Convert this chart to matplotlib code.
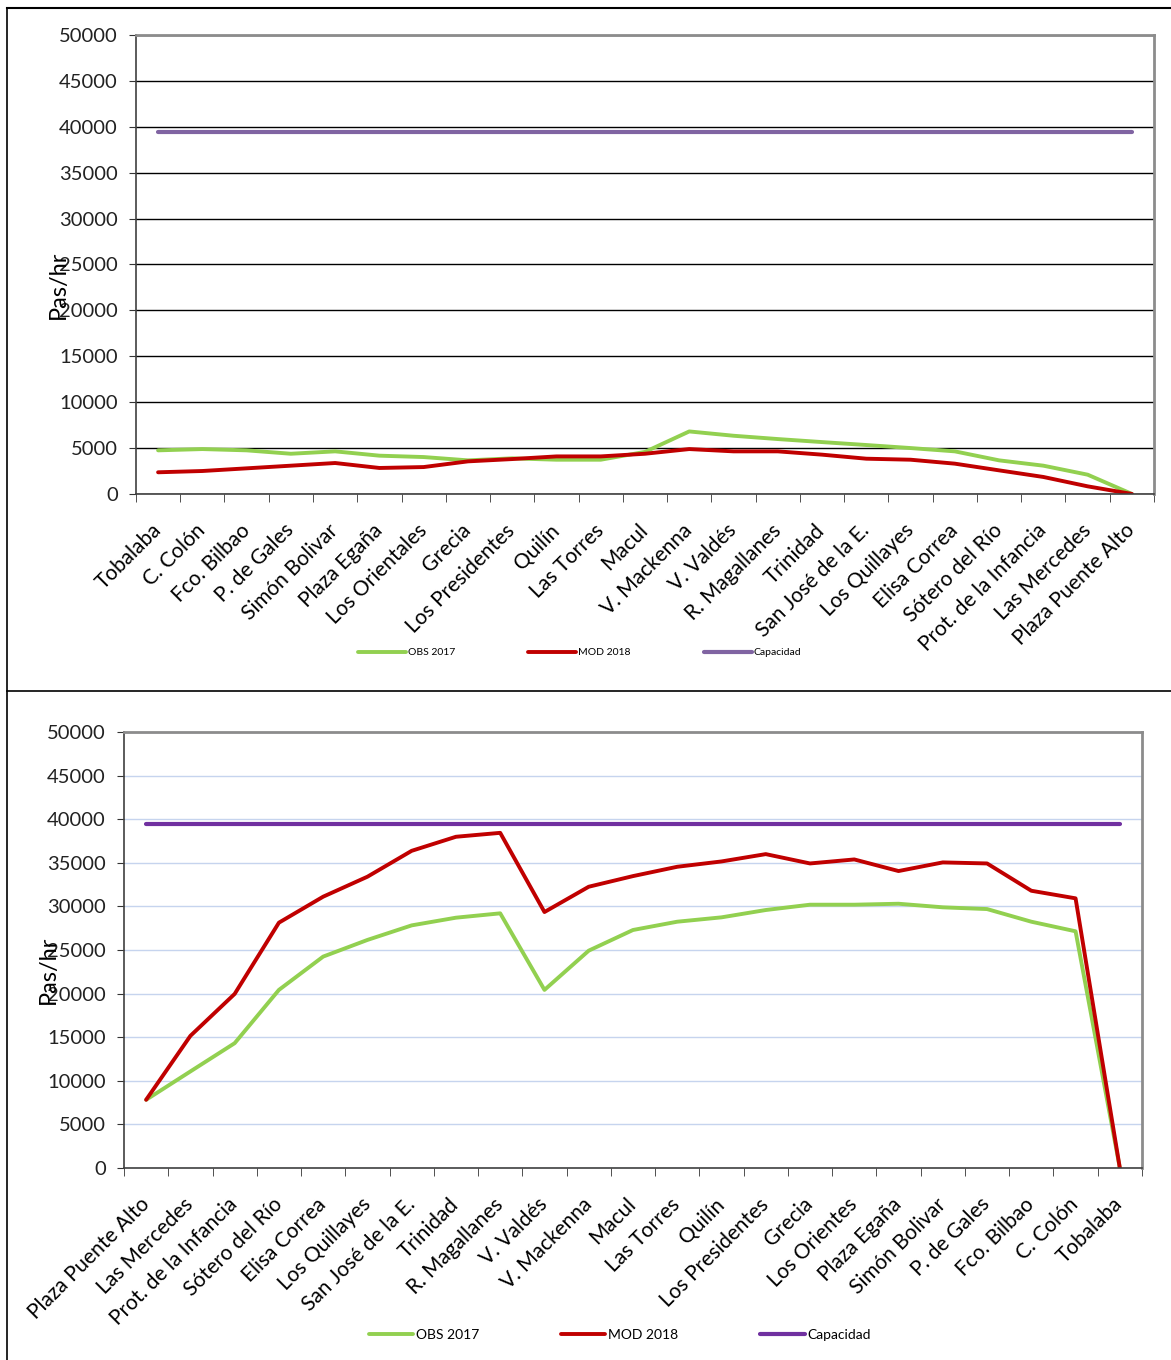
import numpy as np
import matplotlib.pyplot as plt
from matplotlib.lines import Line2D
from matplotlib.ticker import FixedLocator, MultipleLocator

plt.rcParams['font.family'] = ['Lato', 'DejaVu Sans']

# Estaciones en sentido Tobalaba -> Plaza Puente Alto
est_ida = ['Tobalaba', 'C. Colón', 'Fco. Bilbao', 'P. de Gales', 'Simón Bolivar',
           'Plaza Egaña', 'Los Orientales', 'Grecia', 'Los Presidentes', 'Quilín',
           'Las Torres', 'Macul', 'V. Mackenna', 'V. Valdés', 'R. Magallanes',
           'Trinidad', 'San José de la E.', 'Los Quillayes', 'Elisa Correa',
           'Sótero del Río', 'Prot. de la Infancia', 'Las Mercedes', 'Plaza Puente Alto']
obs_ida = [4750, 4890, 4750, 4380, 4640, 4170, 4020, 3660, 3880, 3730, 3730, 4580,
           6810, 6340, 5980, 5650, 5330, 5000, 4640, 3660, 3080, 2100, 0]
mod_ida = [2360, 2500, 2790, 3080, 3370, 2830, 2930, 3550, 3800, 4090, 4090, 4380,
           4890, 4640, 4640, 4280, 3840, 3730, 3300, 2570, 1850, 830, 0]

# Estaciones en sentido Plaza Puente Alto -> Tobalaba
est_vuelta = ['Plaza Puente Alto', 'Las Mercedes', 'Prot. de la Infancia', 'Sótero del Río',
              'Elisa Correa', 'Los Quillayes', 'San José de la E.', 'Trinidad',
              'R. Magallanes', 'V. Valdés', 'V. Mackenna', 'Macul', 'Las Torres', 'Quilín',
              'Los Presidentes', 'Grecia', 'Los Orientes', 'Plaza Egaña', 'Simón Bolivar',
              'P. de Gales', 'Fco. Bilbao', 'C. Colón', 'Tobalaba']
obs_vuelta = [7820, 11070, 14310, 20420, 24240, 26150, 27820, 28700, 29200, 20420,
              24920, 27290, 28240, 28740, 29580, 30190, 30190, 30300, 29890, 29690,
              28240, 27140, 0]
mod_vuelta = [7820, 15150, 19960, 28130, 31110, 33400, 36370, 37980, 38430, 29350,
              32250, 33470, 34540, 35150, 35990, 34920, 35380, 34050, 35040, 34920,
              31790, 30920, 0]

capacidad = 39400

VERDE = '#92d050'
ROJO = '#c00000'

fig = plt.figure(figsize=(11.71, 13.6), dpi=100)


def grafico(rect, estaciones, obs, mod, color_cap, color_grilla,
            ylab_x, leg_pos, leg_fs, handle_len, col_sp):
    ax = fig.add_axes(rect)
    n = len(estaciones)
    x = np.arange(n)
    ax.plot(x, obs, color=VERDE, lw=2.8, label='OBS 2017', solid_capstyle='round')
    ax.plot(x, mod, color=ROJO, lw=2.8, label='MOD 2018', solid_capstyle='round')
    ax.plot(x, np.full(n, capacidad), color=color_cap, lw=3, label='Capacidad',
            solid_capstyle='round')

    ax.set_xlim(-0.5, n - 0.5)
    ax.set_ylim(0, 50000)
    ax.yaxis.set_major_locator(MultipleLocator(5000))
    ax.grid(axis='y', color=color_grilla, lw=1.0)
    ax.set_axisbelow(True)

    ax.set_xticks(x)
    ax.set_xticklabels(estaciones, rotation=45, ha='right', va='center',
                       rotation_mode='anchor', fontsize=15)
    ax.xaxis.set_minor_locator(FixedLocator(np.arange(n + 1) - 0.5))
    ax.tick_params(axis='x', which='major', length=0, pad=24)
    ax.tick_params(axis='x', which='minor', length=6, color='#333333')
    ax.tick_params(axis='y', length=5, labelsize=14.5, color='#333333', pad=8)
    for lab in ax.get_yticklabels():
        lab.set_color('#222222')

    for lado in ('left', 'bottom'):
        ax.spines[lado].set_color('#404040')
        ax.spines[lado].set_linewidth(1.2)
    for lado in ('top', 'right'):
        ax.spines[lado].set_color('#8c8c8c')
        ax.spines[lado].set_linewidth(2)

    # la etiqueta del eje queda montada sobre los números del eje
    ax.set_ylabel('Pas/hr', fontsize=17)
    ax.yaxis.set_label_coords(ylab_x, 0.455)

    ax.legend(loc='center', bbox_to_anchor=leg_pos, ncol=3, frameon=False,
              fontsize=leg_fs, handlelength=handle_len, handletextpad=0.2,
              columnspacing=col_sp)
    return ax


grafico([0.1161, 0.6368, 0.8694, 0.3375], est_ida, obs_ida, mod_ida,
        '#8064a2', '#000000', -0.066, (0.436, -0.346), 7.5, 4.6, 7.0)
grafico([0.1059, 0.1412, 0.8693, 0.3206], est_vuelta, obs_vuelta, mod_vuelta,
        '#7030a0', '#c6d4ee', -0.064, (0.487, -0.383), 10, 3.2, 5.9)

# Marco de la página
fig.add_artist(Line2D([0.006, 1.0], [0.9941, 0.9941], color='black', lw=1.5))
fig.add_artist(Line2D([0.006, 1.0], [0.4919, 0.4919], color='black', lw=1.2))
fig.add_artist(Line2D([0.006, 0.006], [0.0, 0.9941], color='black', lw=1.2))

fig.savefig('out.png', dpi=100)
